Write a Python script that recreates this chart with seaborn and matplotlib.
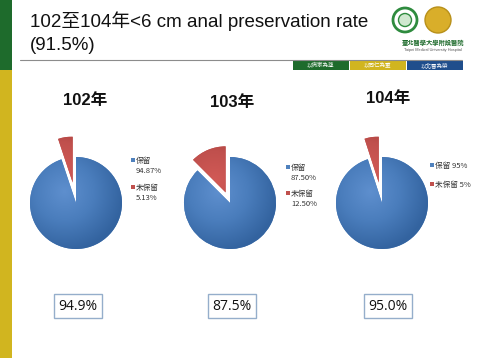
import matplotlib
matplotlib.use("Agg")
import numpy as np
import matplotlib.pyplot as plt
import seaborn as sns
from matplotlib.patches import Rectangle, Circle
from matplotlib.colors import LinearSegmentedColormap

# ---------------- data ----------------
years = ["102年", "103年", "104年"]
kept = [94.87, 87.50, 95.0]
not_kept = [5.13, 12.50, 5.0]
kept_text = ["94.87%", "87.50%", "95%"]
not_kept_text = ["5.13%", "12.50%", "5%"]
rates = ["94.9%", "87.5%", "95.0%"]
slice_labels = ["保留", "未保留"]
title_line1 = "102至104年<6 cm anal preservation rate"
title_line2 = "(91.5%)"
mottos = ["以病家為尊", "以同仁為重", "以北醫為榮"]

# ---------------- layout (pixels, y from top) ----------------
W, H = 481, 361
pie_cx = [76, 230, 382]
pie_cy = 203
pie_r = 46
explode_amt = [0.45, 0.25, 0.45]
title_pos = [(85, 100), (232, 102), (388, 98)]
legend_x = [133, 288, 432]
legend_y = [(160, 187), (167, 193), (165, 184)]
box_x = [78, 232, 388]
box_y = 306

sns.set_theme(style="white")
plt.rcParams["font.family"] = ["Liberation Sans", "Noto Sans CJK TC", "DejaVu Sans"]
cjk = ["Noto Sans CJK TC", "DejaVu Sans"]
colors = ["#4F81BD", "#C0504D"]
shades = [LinearSegmentedColormap.from_list("b", ["#5E8FCE", "#4A7DBC", "#33639F"]),
          LinearSegmentedColormap.from_list("r", ["#D25A56", "#C0504D", "#96332F"])]

fig = plt.figure(figsize=(W / 100, H / 100), dpi=100)
ax = fig.add_axes([0, 0, 1, 1])


def Y(y):
    return H - y


# left side bar
ax.add_patch(Rectangle((0, Y(70)), 12, 70, color="#1E6B2C", lw=0))
ax.add_patch(Rectangle((0, Y(358)), 12, 288, color="#D1B51F", lw=0))

# header
ax.text(30, Y(21), title_line1, fontsize=13.5, va="center", ha="left", color="#111111")
ax.text(30, Y(45), title_line2, fontsize=13.5, va="center", ha="left", color="#111111")
ax.plot([20, 462], [Y(60), Y(60)], color="#8C8C8C", lw=0.8)
for i, (c, m) in enumerate(zip(["#1E6B2C", "#D1B51F", "#1F4E8C"], mottos)):
    x0 = 293 + i * 57
    ax.add_patch(Rectangle((x0, Y(70)), 56, 9, color=c, lw=0))
    ax.text(x0 + 28, Y(65.5), m, fontsize=4, family=cjk, color="white", ha="center", va="center")

# logo approximation
ax.add_patch(Circle((405, Y(20)), 12, facecolor="white", edgecolor="#2E8B3E", lw=2))
ax.add_patch(Circle((405, Y(20)), 6.5, facecolor="#CFE8CF", edgecolor="#2E8B3E", lw=1))
ax.add_patch(Circle((438, Y(20)), 13, facecolor="#D9AE2A", edgecolor="#B8901A", lw=1))
ax.text(433, Y(43), "臺北醫學大學附設醫院", fontsize=4.5, family=cjk, color="#1E6B2C",
        ha="center", va="center", fontweight="bold")
ax.text(433, Y(50), "Taipei Medical University Hospital", fontsize=2.8, color="#555555",
        ha="center", va="center")

# radial shading grid
g = np.linspace(-1, 1, 120)
gx, gy = np.meshgrid(g, g)
dist = np.clip(np.sqrt((gx + 0.25) ** 2 + (gy - 0.25) ** 2) / 1.3, 0, 1)

# pies
for i in range(3):
    vals = [kept[i], not_kept[i]]
    wedges, _ = ax.pie(vals, colors=colors, startangle=90, counterclock=False,
                       explode=[0, explode_amt[i] * pie_r], center=(pie_cx[i], Y(pie_cy)),
                       radius=pie_r, frame=True, wedgeprops=dict(linewidth=0))
    for j, w in enumerate(wedges):
        cx, cy = w.center
        im = ax.imshow(dist, cmap=shades[j], vmin=0, vmax=1, origin="lower", aspect="auto",
                       extent=[cx - pie_r, cx + pie_r, cy - pie_r, cy + pie_r],
                       interpolation="bilinear", zorder=w.get_zorder())
        im.set_clip_path(w)
    tx, ty = title_pos[i]
    ax.text(tx, Y(ty), years[i], fontsize=12, fontweight="bold", ha="center", va="center",
            color="#111111")
    # legend
    texts = [kept_text[i], not_kept_text[i]]
    for j in range(2):
        sep = "\n" if "." in texts[j] else " "
        ly = legend_y[i][j]
        ax.add_patch(Rectangle((legend_x[i] - 2, Y(ly) - 2), 4, 4, color=colors[j], lw=0))
        ax.text(legend_x[i] + 3, Y(ly) + 3, slice_labels[j] + sep + texts[j], fontsize=5.5,
                family=cjk, ha="left", va="top", color="#333333", linespacing=1.3)
    # rate box
    ax.text(box_x[i], Y(box_y), rates[i], fontsize=10, family=["Open Sans", "DejaVu Sans"],
            ha="center", va="center", color="#111111",
            bbox=dict(boxstyle="square,pad=0.35", facecolor="white", edgecolor="#95AECB", lw=1))

ax.set_xlim(0, W)
ax.set_ylim(0, H)
ax.axis("off")
fig.savefig("out.png", dpi=100)
